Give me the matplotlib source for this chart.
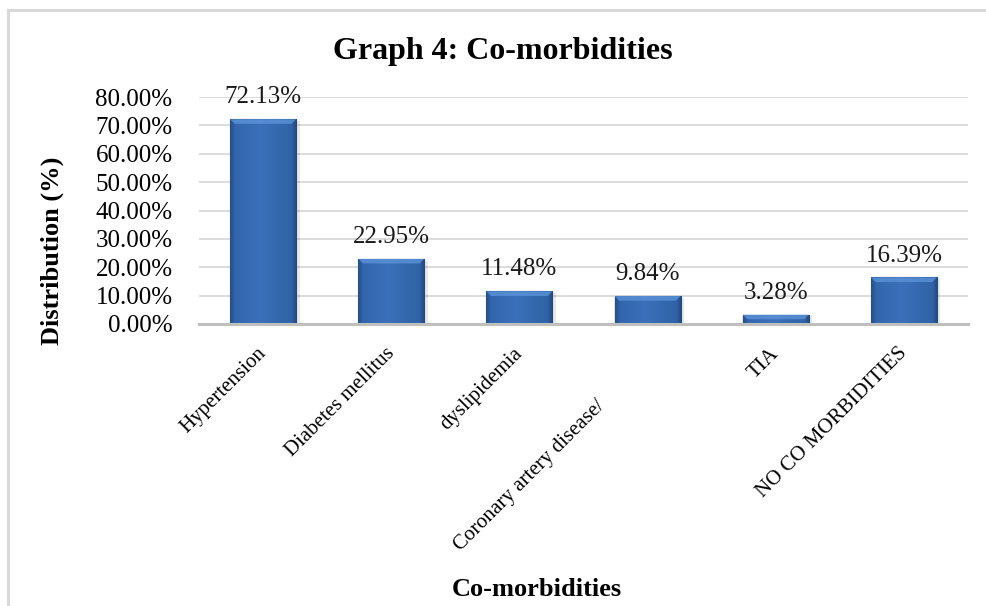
import numpy as np
import matplotlib
matplotlib.use("Agg")
import matplotlib.pyplot as plt
from matplotlib.transforms import ScaledTranslation
from matplotlib.lines import Line2D
from matplotlib.colors import LinearSegmentedColormap

# Co-morbidity distribution (% of patients)
categories = ["Hypertension", "Diabetes mellitus", "dyslipidemia",
              "Coronary artery disease/", "TIA", "NO CO MORBIDITIES"]
values = [72.13, 22.95, 11.48, 9.84, 3.28, 16.39]
y_ticks = [0, 10, 20, 30, 40, 50, 60, 70, 80]

plt.rcParams["font.family"] = ["Liberation Serif", "DejaVu Serif"]

W, H, DPI = 987, 606, 100
fig = plt.figure(figsize=(W / DPI, H / DPI), dpi=DPI)
fig.patch.set_facecolor("white")

# chart frame (light grey border)
fig.add_artist(Line2D([8.5 / W, 8.5 / W], [0, 1 - 9.5 / H], transform=fig.transFigure,
                      color="#D9D9D9", lw=2.2))
fig.add_artist(Line2D([8.5 / W, 1.0], [1 - 9.5 / H, 1 - 9.5 / H], transform=fig.transFigure,
                      color="#D9D9D9", lw=2.2))

left, right, bottom, top = 199, 968, 324, 97
ax = fig.add_axes([left / W, 1 - bottom / H, (right - left) / W, (bottom - top) / H])

x = np.arange(len(categories))
bw = 0.515

ax.set_xlim(-0.5, len(categories) - 0.5)
ax.set_ylim(0, 80)

# soft shadow beneath the bars
for xi, v in zip(x, values):
    ax.bar(xi + 0.012, v, width=bw + 0.03, bottom=-0.6, color="#000000", alpha=0.09,
           zorder=2, linewidth=0)

bars = ax.bar(x, values, width=bw, color="#3A6FB5", edgecolor="#2A5288",
              linewidth=0.8, zorder=3)

# bevelled gradient fill on each bar
cmap = LinearSegmentedColormap.from_list(
    "bevel", [(0.0, "#264F88"), (0.08, "#3366AC"), (0.45, "#3B71BA"),
              (0.92, "#3063A6"), (1.0, "#224780")])
gx = np.linspace(0, 1, 300)
grad = np.tile(gx, (60, 1))
for b in bars:
    bx, by = b.get_x(), b.get_y()
    bwid, bh = b.get_width(), b.get_height()
    im = ax.imshow(grad, extent=(bx, bx + bwid, by, by + bh), aspect="auto",
                   cmap=cmap, origin="lower", zorder=3.5, interpolation="bilinear")
    im.set_clip_path(b)
    # lighter bevel along the top edge
    cap = min(bh * 0.5, 1.6)
    ax.fill([bx, bx + bwid, bx + bwid * 0.93, bx + bwid * 0.07],
            [by + bh, by + bh, by + bh - cap, by + bh - cap],
            color="#5E95DA", alpha=0.75, zorder=3.7, linewidth=0)

# data labels
for xi, v in zip(x, values):
    ax.annotate(f"{v:.2f}%", (xi, v), xytext=(0, 11.5), textcoords="offset points",
                ha="center", va="baseline", fontsize=18, color="#1a1a1a", zorder=5)

# grid and spines
ax.set_yticks(y_ticks)
ax.set_yticklabels([f"{t:.2f}%" for t in y_ticks], fontsize=18)
ax.yaxis.grid(True, color="#D9D9D9", lw=1.3, zorder=0)
ax.set_axisbelow(True)
for s in ["top", "right", "left"]:
    ax.spines[s].set_visible(False)
ax.spines["bottom"].set_color("#BFBFBF")
ax.spines["bottom"].set_linewidth(2.2)
ax.spines["bottom"].set_zorder(4)
ax.tick_params(axis="y", length=0, pad=19)
ax.tick_params(axis="x", length=0, pad=13)

ax.set_xticks(x)
ax.set_xticklabels(categories, fontsize=15, rotation=45, ha="right",
                   va="top", rotation_mode="anchor")
for i, lab in enumerate(ax.get_xticklabels()):
    dx, dy = -6, -2
    if i == 3:
        dx, dy = -52, -55
    lab.set_transform(lab.get_transform() + ScaledTranslation(dx / DPI, dy / DPI, fig.dpi_scale_trans))

# titles
fig.text(503 / W, 1 - 52 / H, "Graph 4: Co-morbidities", ha="center", va="center",
         fontsize=23, fontweight="bold")
fig.text(52 / W, 1 - 251 / H, "Distribution (%)", ha="center", va="center",
         rotation=90, fontsize=19, fontweight="bold")
fig.text(537 / W, 1 - 590 / H, "Co-morbidities", ha="center", va="center",
         fontsize=19, fontweight="bold")

fig.savefig("out.png", dpi=DPI, facecolor="white")
